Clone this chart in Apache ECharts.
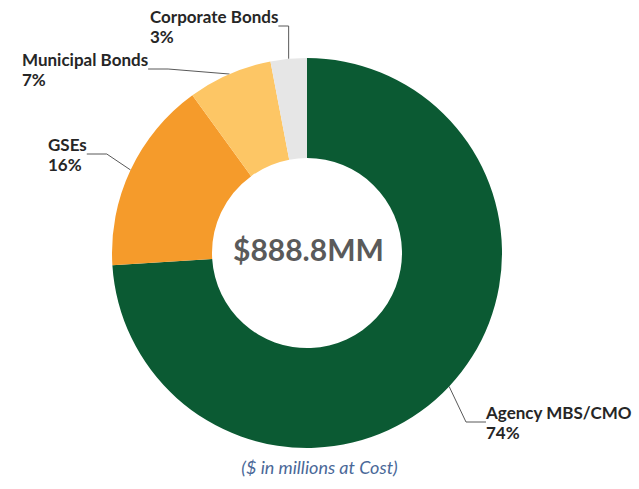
<!DOCTYPE html>
<html>
<head>
<meta charset="utf-8">
<script src="https://cdn.jsdelivr.net/npm/echarts@6/dist/echarts.min.js"></script>
<style>
  html, body { margin: 0; padding: 0; background: #fff; }
  #container_pie { width: 639px; height: 489px; }
</style>
</head>
<body>
<div id="container_pie"></div>
<script>
const categories = ['Agency MBS/CMO', 'GSEs', 'Municipal Bonds', 'Corporate Bonds'];
const shares = [74, 16, 7, 3];
const colors = ['#0b5a33', '#f59b2b', '#fdc665', '#e6e6e6'];
const totalText = '$888.8MM';
const noteText = '($ in millions at Cost)';

// top-left corners of the label blocks
const labelSpots = [[486, 402], [48, 134], [22, 49], [150, 6]];

function drawPieChart() {
    const myChart = echarts.init(document.getElementById('container_pie'), null, {
        renderer: 'svg'
    });
    const data = categories.map(function (name, i) {
        return { name: name, value: shares[i], itemStyle: { color: colors[i] } };
    });
    const option = {
        animation: false,
        graphic: [{
            type: 'text',
            left: 233,
            top: 234,
            style: {
                text: totalText,
                font: 'bold 30px Lato',
                fill: '#5a5a5a'
            }
        }, {
            type: 'text',
            left: 'center',
            top: 458,
            style: {
                text: noteText,
                font: 'italic 18px Lato',
                fill: '#4a6898'
            }
        }],
        series: [{
            name: 'Portfolio',
            type: 'pie',
            center: [307, 253],
            radius: [95, 195],
            startAngle: 90,
            clockwise: true,
            label: {
                show: true,
                position: 'outside',
                formatter: '{b}\n{d}%',
                fontFamily: 'Lato',
                fontWeight: 'bold',
                fontSize: 17,
                lineHeight: 20,
                color: '#262626',
                align: 'left'
            },
            labelLine: {
                show: true,
                length: 12,
                length2: 20,
                lineStyle: { color: '#595959', width: 1 }
            },
            labelLayout: function (params) {
                const p = labelSpots[params.dataIndex];
                return { x: p[0], y: p[1], align: 'left', verticalAlign: 'top' };
            },
            data: data
        }]
    };
    myChart.setOption(option);
}

drawPieChart();
</script>
</body>
</html>
